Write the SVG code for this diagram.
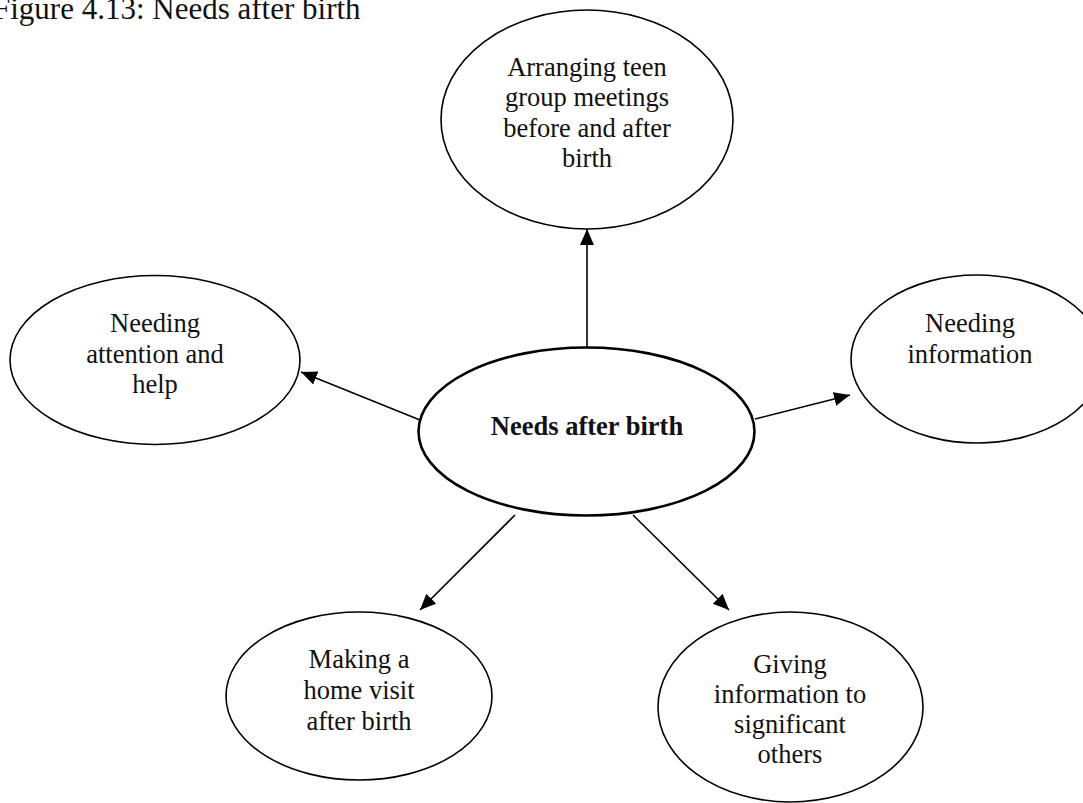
<svg xmlns="http://www.w3.org/2000/svg" width="1083" height="803" viewBox="0 0 1083 803">
<style>
  .bg { fill: #ffffff; }
  .node { fill: #ffffff; stroke: #000000; stroke-width: 1.6; }
  .main { fill: #ffffff; stroke: #000000; stroke-width: 2.6; }
  .lbl { font-family: "Liberation Serif", "Times New Roman", serif; font-size: 26.5px; fill: #111111; text-anchor: middle; }
  .bold { font-weight: bold; }
  .title { font-family: "Liberation Serif", "Times New Roman", serif; font-size: 31px; fill: #111111; }
  .conn { stroke: #000000; stroke-width: 1.6; fill: none; marker-end: url(#arrow); }
</style>
<defs>
  <marker id="arrow" markerUnits="userSpaceOnUse" markerWidth="18" markerHeight="16" refX="16" refY="7" orient="auto">
    <path d="M0,0 L16,7 L0,14 z" fill="#000000"/>
  </marker>
</defs>
<rect class="bg" x="0" y="0" width="1083" height="803"/>
<text class="title" x="-7" y="18.5">Figure 4.13: Needs after birth</text>

<g id="connectors">
  <line class="conn" x1="587" y1="347" x2="587" y2="229"/>
  <line class="conn" x1="420" y1="420" x2="301" y2="372"/>
  <line class="conn" x1="755" y1="419" x2="850" y2="395"/>
  <line class="conn" x1="515" y1="515" x2="420" y2="610"/>
  <line class="conn" x1="633" y1="515" x2="729" y2="610"/>
</g>

<g id="node-center">
  <ellipse class="main" cx="586.5" cy="431.5" rx="168" ry="84"/>
  <text class="lbl bold" x="587" y="435">Needs after birth</text>
</g>

<g id="node-top">
  <ellipse class="node" cx="587" cy="119.5" rx="146" ry="109.5"/>
  <text class="lbl" x="587" y="76">Arranging teen</text>
  <text class="lbl" x="587" y="106">group meetings</text>
  <text class="lbl" x="587" y="136.5">before and after</text>
  <text class="lbl" x="587" y="166.5">birth</text>
</g>

<g id="node-left">
  <ellipse class="node" cx="155" cy="360" rx="145" ry="84.5"/>
  <text class="lbl" x="155" y="332">Needing</text>
  <text class="lbl" x="155" y="363">attention and</text>
  <text class="lbl" x="155" y="393">help</text>
</g>

<g id="node-right">
  <ellipse class="node" cx="977" cy="359" rx="126" ry="84"/>
  <text class="lbl" x="970" y="332">Needing</text>
  <text class="lbl" x="970" y="363">information</text>
</g>

<g id="node-bottom-left">
  <ellipse class="node" cx="359" cy="696" rx="133" ry="84"/>
  <text class="lbl" x="359" y="668">Making a</text>
  <text class="lbl" x="359" y="699">home visit</text>
  <text class="lbl" x="359" y="730">after birth</text>
</g>

<g id="node-bottom-right">
  <ellipse class="node" cx="790.5" cy="707" rx="132.5" ry="95"/>
  <text class="lbl" x="790" y="673">Giving</text>
  <text class="lbl" x="790" y="703">information to</text>
  <text class="lbl" x="790" y="733">significant</text>
  <text class="lbl" x="790" y="763">others</text>
</g>
</svg>
